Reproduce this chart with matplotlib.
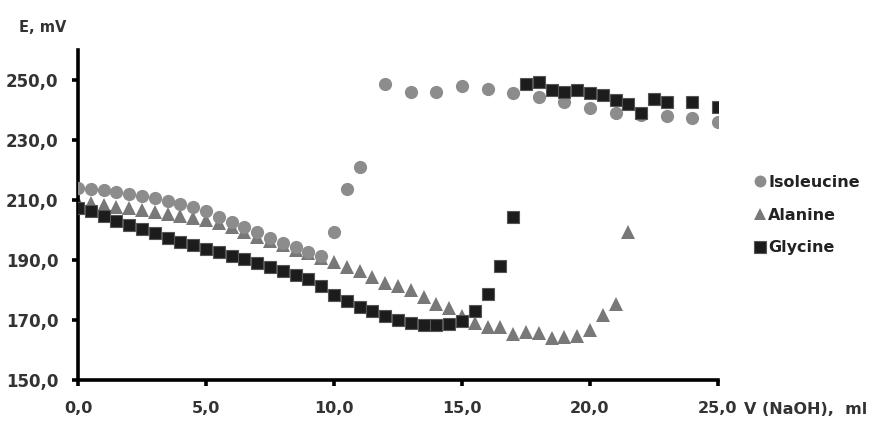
import matplotlib.pyplot as plt
import numpy as np

# titration volume, ml
iso_x = [0.0, 0.5, 1.0, 1.5, 2.0, 2.5, 3.0, 3.5, 4.0, 4.5, 5.0, 5.5, 6.0, 6.5,
         7.0, 7.5, 8.0, 8.5, 9.0, 9.5, 10.0, 10.5, 11.0, 12.0, 13.0, 14.0,
         15.0, 16.0, 17.0, 18.0, 19.0, 20.0, 21.0, 22.0, 23.0, 24.0, 25.0]
iso_e = [213.9, 213.7, 213.3, 212.8, 212.0, 211.4, 210.6, 209.7, 208.7, 207.8,
         206.5, 204.5, 202.8, 201.0, 199.2, 197.2, 195.8, 194.2, 192.8, 191.3,
         199.5, 213.7, 220.9, 248.7, 246.1, 245.9, 248.1, 247.0, 245.8, 244.4,
         242.8, 240.7, 238.9, 238.5, 238.0, 237.2, 236.1]

ala_x = [0.0, 0.5, 1.0, 1.5, 2.0, 2.5, 3.0, 3.5, 4.0, 4.5, 5.0, 5.5, 6.0, 6.5,
         7.0, 7.5, 8.0, 8.5, 9.0, 9.5, 10.0, 10.5, 11.0, 11.5, 12.0, 12.5,
         13.0, 13.5, 14.0, 14.5, 15.0, 15.5, 16.0, 16.5, 17.0, 17.5, 18.0,
         18.5, 19.0, 19.5, 20.0, 20.5, 21.0, 21.5]
ala_e = [209.5, 209.0, 208.5, 207.8, 207.2, 206.6, 206.0, 205.4, 204.8, 204.0,
         203.2, 202.2, 201.0, 199.5, 197.8, 196.3, 195.0, 193.5, 192.2, 190.7,
         189.3, 187.8, 186.2, 184.2, 182.5, 181.5, 180.0, 177.8, 175.3, 173.9,
         171.5, 169.0, 167.8, 167.6, 165.2, 166.0, 165.7, 164.0, 164.3, 164.8,
         166.7, 171.7, 175.3, 199.3]

gly_x = [0.0, 0.5, 1.0, 1.5, 2.0, 2.5, 3.0, 3.5, 4.0, 4.5, 5.0, 5.5, 6.0, 6.5,
         7.0, 7.5, 8.0, 8.5, 9.0, 9.5, 10.0, 10.5, 11.0, 11.5, 12.0, 12.5,
         13.0, 13.5, 14.0, 14.5, 15.0, 15.5, 16.0, 16.5, 17.0, 17.5, 18.0,
         18.5, 19.0, 19.5, 20.0, 20.5, 21.0, 21.5, 22.0, 22.5, 23.0, 24.0, 25.0]
gly_e = [207.5, 206.2, 204.8, 203.0, 201.7, 200.3, 198.9, 197.3, 196.1, 195.0,
         193.7, 192.7, 191.5, 190.2, 188.9, 187.6, 186.3, 185.0, 183.6, 181.5,
         178.5, 176.2, 174.2, 173.0, 171.4, 170.0, 169.0, 168.4, 168.2, 168.8,
         169.7, 173.0, 178.7, 188.0, 204.3, 248.8, 249.2, 246.7, 246.1, 246.7,
         245.8, 245.0, 243.3, 241.9, 239.0, 243.6, 242.8, 242.6, 241.0]

xticks = [0, 5, 10, 15, 20, 25]
yticks = [150, 170, 190, 210, 230, 250]

fig = plt.figure(figsize=(8.82, 4.21), dpi=100)
ax = fig.add_axes([0.0884, 0.0974, 0.7256, 0.7836])

# alanine underneath, isoleucine circles on top of it, glycine on top
ax.plot(iso_x, iso_e, "o", color="#8c8c8c", markersize=9.5, markeredgewidth=0,
        label="Isoleucine", zorder=3)
ax.plot(ala_x, ala_e, "^", color="#787878", markersize=10, markeredgewidth=0,
        label="Alanine", zorder=2)
ax.plot(gly_x, gly_e, "s", color="#1c1c1c", markersize=9,
        markeredgecolor="#555555", markeredgewidth=0.8, label="Glycine", zorder=4)

ax.set_xlim(0, 25)
ax.set_ylim(150, 260)
ax.set_xticks(xticks)
ax.set_yticks(yticks)
ax.set_xticklabels([f"{t:.1f}".replace(".", ",") for t in xticks])
ax.set_yticklabels([f"{t:.1f}".replace(".", ",") for t in yticks])

for side in ["top", "right"]:
    ax.spines[side].set_visible(False)
for side in ["left", "bottom"]:
    ax.spines[side].set_linewidth(2.6)
    ax.spines[side].set_color("black")

ax.tick_params(direction="out", length=4, width=2.6, color="black",
               labelsize=12, labelcolor="#333333", pad=10)
for lab in ax.get_xticklabels():
    lab.set_fontweight("bold")
    lab.set_fontsize(11.5)
for lab in ax.get_yticklabels():
    lab.set_fontweight("bold")
ax.tick_params(axis="x", pad=11)

fig.text(0.021, 0.935, "E, mV", fontsize=10.5, fontweight="bold", color="#333333",
         ha="left", va="center")
fig.text(0.843, 0.027, "V (NaOH),  ml", fontsize=11.5, fontweight="bold",
         color="#333333", ha="left", va="center")

leg = ax.legend(loc="center left", bbox_to_anchor=(1.03, 0.50), frameon=False,
                handletextpad=0.05, handlelength=1.0, labelspacing=1.1,
                markerscale=0.9, prop={"weight": "bold", "size": 11.5})
for txt in leg.get_texts():
    txt.set_color("#222222")

fig.savefig("out.png", dpi=100)
